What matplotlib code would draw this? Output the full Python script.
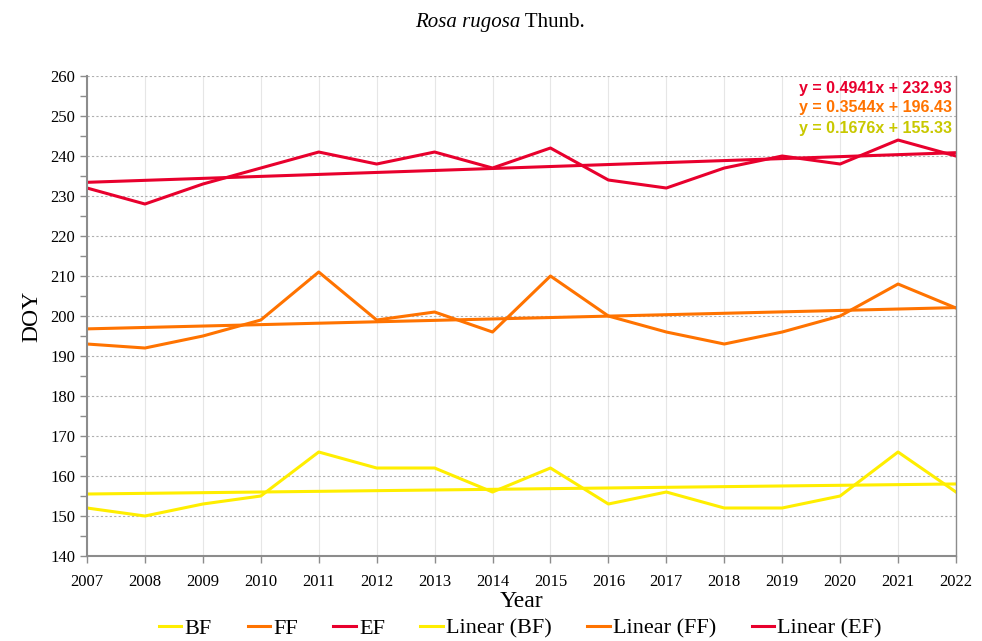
import matplotlib

matplotlib.use("Agg")
import matplotlib.pyplot as plt  # noqa: E402
from matplotlib.ticker import MultipleLocator  # noqa: E402

YEARS = list(range(2007, 2023))
BF = [152, 150, 153, 155, 166, 162, 162, 156, 162, 153, 156, 152, 152, 155, 166, 156]
FF = [193, 192, 195, 199, 211, 199, 201, 196, 210, 200, 196, 193, 196, 200, 208, 202]
EF = [232, 228, 233, 237, 241, 238, 241, 237, 242, 234, 232, 237, 240, 238, 244, 240]

# trend equations as printed on the chart (x = 1..16)
TRENDS = {"BF": (0.1676, 155.33), "FF": (0.3544, 196.43), "EF": (0.4941, 232.93)}

C_BF = "#FFEE00"
C_FF = "#FF7300"
C_EF = "#E8002D"
C_BF_TXT = "#C8C800"

SERIF = ["Liberation Serif", "DejaVu Serif"]

fig = plt.figure(figsize=(9.82, 6.41), dpi=100)
ax = fig.add_axes([0.0886, 0.1326, 0.8849, 0.7488])

lw = 2.2
h_bf, = ax.plot(YEARS, BF, color=C_BF, lw=lw, label="BF")
h_ff, = ax.plot(YEARS, FF, color=C_FF, lw=lw, label="FF")
h_ef, = ax.plot(YEARS, EF, color=C_EF, lw=lw, label="EF")

xs = list(range(1, len(YEARS) + 1))
handles = [h_bf, h_ff, h_ef]
for key, col in [("BF", C_BF), ("FF", C_FF), ("EF", C_EF)]:
    a, b = TRENDS[key]
    h, = ax.plot(YEARS, [a * x + b for x in xs], color=col, lw=lw,
                 label=f"Linear ({key})")
    handles.append(h)

ax.set_xlim(2007, 2022)
ax.set_ylim(140, 260)
ax.set_xticks(YEARS)
ax.yaxis.set_major_locator(MultipleLocator(10))
ax.yaxis.set_minor_locator(MultipleLocator(5))
ax.grid(axis="y", which="major", color="#b0b0b0", ls=(0, (2, 2)), lw=0.8)
ax.grid(axis="x", which="major", color="#e6e6e6", ls="-", lw=0.8)
ax.set_axisbelow(True)

for s in ["left", "bottom", "right"]:
    ax.spines[s].set_color("#8c8c8c")
    ax.spines[s].set_linewidth(1.5)
ax.spines["right"].set_linewidth(1.0)
ax.spines["top"].set_visible(False)
ax.tick_params(axis="both", which="both", color="#8c8c8c", width=1.0,
               length=5, labelsize=12)
ax.tick_params(axis="x", pad=8)
for lab in ax.get_xticklabels() + ax.get_yticklabels():
    lab.set_fontfamily(SERIF)

ax.set_ylabel("DOY", fontsize=17, family=SERIF, labelpad=6)
ax.set_xlabel("Year", fontsize=17, family=SERIF, labelpad=1)

fig.text(0.53, 0.965, "Rosa rugosa", fontsize=15, family=SERIF, style="italic",
         ha="right", va="center")
fig.text(0.53, 0.965, " Thunb.", fontsize=15, family=SERIF,
         ha="left", va="center")

eq_font = dict(fontsize=11.5, fontweight="bold", family=["Liberation Sans", "DejaVu Sans"],
               ha="right", va="center", transform=ax.transAxes)
for key, col, yy in [("EF", C_EF, 0.973), ("FF", C_FF, 0.935), ("BF", C_BF_TXT, 0.891)]:
    a, b = TRENDS[key]
    ax.text(0.995, yy, f"y = {a:.4f}x + {b:.2f}", color=col, **eq_font)

fig.legend(handles=handles, loc="lower center", ncol=6, frameon=False,
           bbox_to_anchor=(0.53, -0.028), prop={"family": SERIF, "size": 16},
           handlelength=1.0, handletextpad=0.15, columnspacing=1.6)

plt.savefig("out.png", dpi=100)
plt.close()
